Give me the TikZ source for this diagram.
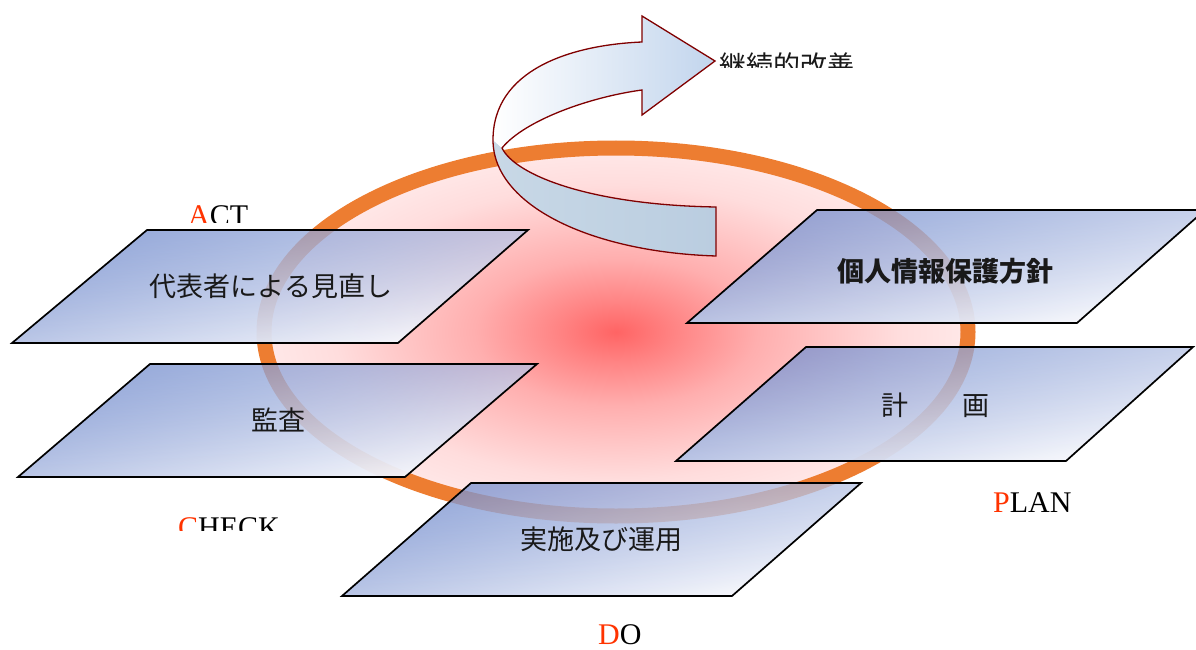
\documentclass[tikz,border=0pt]{standalone}
\usepackage{fontspec}
\setmainfont{Liberation Serif}
\newfontfamily\jp{Noto Sans CJK JP}
\usetikzlibrary{fadings}
\definecolor{ringc}{RGB}{237,125,49}
\definecolor{glowc}{RGB}{255,100,100}
\definecolor{boxblue}{RGB}{112,138,204}
\definecolor{boxwhite}{RGB}{252,252,254}
\definecolor{arrowline}{RGB}{128,0,0}
\definecolor{arrowblue}{RGB}{194,213,237}
\definecolor{bandblue}{RGB}{186,205,224}
\definecolor{bandlight}{RGB}{200,216,230}
\definecolor{letterred}{RGB}{255,51,0}
\pgfdeclareradialshading{glowshade}{\pgfpoint{0bp}{0bp}}{%
  color(0bp)=(glowc); color(4bp)=(glowc!80!white); color(10bp)=(glowc!52!white);
  color(20bp)=(glowc!22!white); color(31bp)=(glowc!6!white); color(40bp)=(white); color(50bp)=(white)}
\tikzfading[name=boxfade, top color=transparent!25, bottom color=transparent!3]
\newcommand\pgbox[4]{%
  \shade[pgfill] #1 -- #2 -- #3 -- #4 -- cycle;
  \draw[pgline] #1 -- #2 -- #3 -- #4 -- cycle;}
\begin{document}
\begin{tikzpicture}[x=1pt,y=-1pt,
  pgfill/.style={top color=boxblue, bottom color=boxwhite, shading angle=12, path fading=boxfade},
  pgline/.style={draw=black, line width=1.7pt, line join=miter},
  jptext/.style={inner sep=0pt, font=\jp\fontsize{27}{32}\selectfont, text=black!90},
  lbl/.style={inner sep=0pt, anchor=base west, font=\fontsize{30}{36}\selectfont},
  arrowedge/.style={draw=arrowline, line width=1.3pt, line join=miter}]
\useasboundingbox (0,0) rectangle (1196,650);
% glow and ring
\shade[shading=glowshade] (616,332) ellipse [x radius=352, y radius=184];
\draw[ringc, line width=15pt] (616,332) ellipse [x radius=352, y radius=184];
% curved arrow
\coordinate (F) at (502,148);
\coordinate (L) at (493,140);
\coordinate (E1) at (716,207);
\coordinate (E2) at (716,256);
\coordinate (S1) at (642,42);
\coordinate (H1) at (642,16);
\coordinate (T) at (715,61);
\coordinate (H2) at (642,115);
\coordinate (S2) at (642,90);
\shade[left color=bandlight, right color=bandblue]
  (F) .. controls (515,175) and (590,205) .. (E1) -- (E2)
  .. controls (590,252) and (493,205) .. (L) -- cycle;
\shade[left color=white, right color=arrowblue]
  (L) .. controls (493,70) and (570,45) .. (S1) -- (H1) -- (T) -- (H2) -- (S2)
  .. controls (590,97) and (525,120) .. (F) -- cycle;
\draw[arrowedge] (E2) .. controls (590,252) and (493,205) .. (L)
  .. controls (493,70) and (570,45) .. (S1) -- (H1) -- (T) -- (H2) -- (S2)
  .. controls (590,97) and (525,120) .. (F)
  .. controls (515,175) and (590,205) .. (E1) -- cycle;
% boxes
\pgbox{(147,230)}{(528,230)}{(398,343)}{(12,343)}
\pgbox{(150,364)}{(537,364)}{(405,477)}{(18,477)}
\pgbox{(817,210)}{(1205,210)}{(1077,323)}{(687,323)}
\pgbox{(806,347)}{(1193,347)}{(1066,461)}{(676,461)}
\pgbox{(471,483)}{(861,483)}{(732,596)}{(342,596)}
% box texts
\node[jptext] (review) at (271,286) {代表者による見直し};
\node[jptext] (audit) at (278,420) {監査};
\node[jptext, font=\jp\bfseries\fontsize{27}{32}\selectfont] (policy) at (945,271) {個人情報保護方針};
\node[jptext] (plan) at (935,405) {計　　画};
\node[jptext] (do) at (601,539) {実施及び運用};
% labels
\begin{scope}
  \clip (700,30) rectangle (900,68);
  \node[jptext, anchor=west] (kaizen) at (719,65) {継続的改善};
\end{scope}
\begin{scope}
  \clip (150,190) rectangle (300,222);
  \node[lbl] (actl) at (188,225) {\textcolor{letterred}{A}CT};
\end{scope}
\begin{scope}
  \clip (150,500) rectangle (320,530);
  \node[lbl] (checkl) at (178,537) {\textcolor{letterred}{C}HECK};
\end{scope}
\node[lbl] (planl) at (993,512) {\textcolor{letterred}{P}LAN};
\node[lbl] (dol) at (598,644) {\textcolor{letterred}{D}O};
\end{tikzpicture}
\end{document}
